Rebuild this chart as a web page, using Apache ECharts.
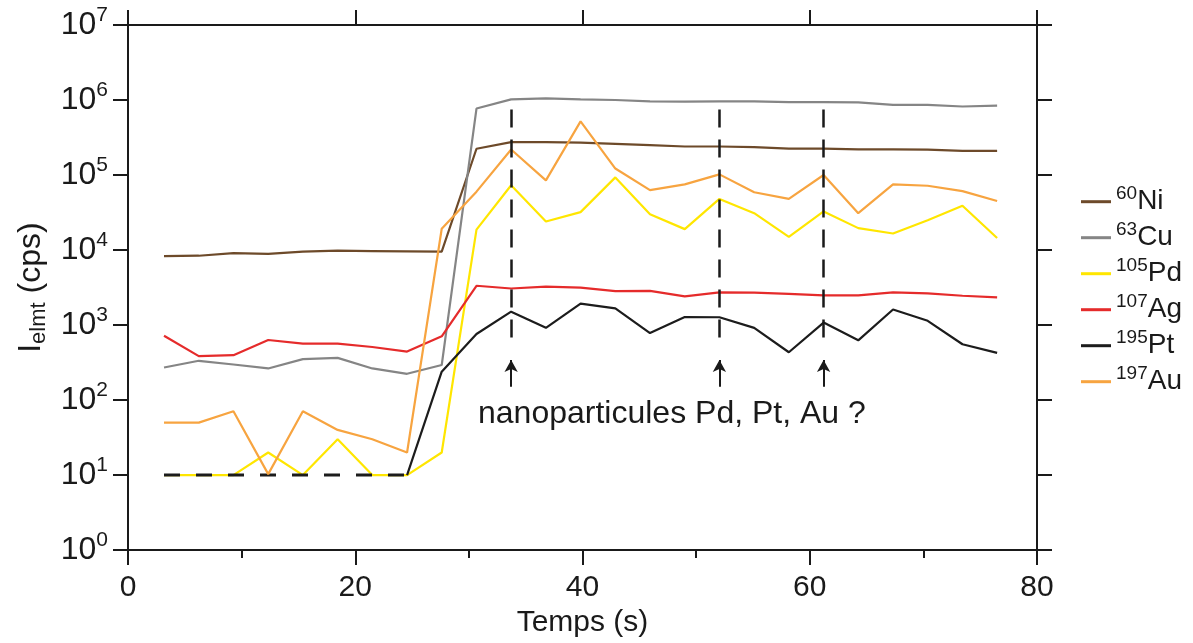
<!DOCTYPE html>
<html>
<head>
<meta charset="utf-8">
<script src="https://cdn.jsdelivr.net/npm/echarts@6/dist/echarts.min.js"></script>
<style>
html,body{margin:0;padding:0;background:#fff;}
#chart{width:1193px;height:643px;}
</style>
</head>
<body>
<div id="chart"></div>
<script>
// ---- data ----
var times = [3.17, 6.23, 9.28, 12.34, 15.39, 18.45, 21.50, 24.56, 27.61, 30.67, 33.72, 36.78, 39.83, 42.89, 45.94, 49.00, 52.05, 55.11, 58.16, 61.22, 64.27, 67.33, 70.38, 73.44, 76.49];
var ni60  = [8300, 8400, 9100, 8900, 9500, 9800, 9700, 9600, 9500, 224000, 275000, 275000, 270000, 260000, 250000, 240000, 240000, 235000, 225000, 225000, 220000, 220000, 218000, 210000, 210000];
var cu63  = [272, 334, 298, 264, 351, 365, 264, 224, 293, 770000, 1020000, 1050000, 1020000, 1000000, 960000, 950000, 960000, 960000, 940000, 940000, 930000, 860000, 860000, 820000, 840000];
var pd105 = [10, 10, 10, 20, 10, 30, 10, 10, 20, 18700, 73000, 24000, 32000, 93000, 30000, 19000, 48000, 31000, 15000, 32700, 19600, 16600, 25000, 39000, 14500];
var ag107 = [720, 385, 397, 632, 565, 565, 510, 443, 707, 3340, 3070, 3260, 3160, 2830, 2850, 2410, 2720, 2700, 2610, 2480, 2480, 2720, 2650, 2460, 2340];
var pt195 = [10, 10, 10, 10, 10, 10, 10, 10, 239, 760, 1510, 918, 1930, 1670, 782, 1280, 1270, 918, 434, 1080, 626, 1610, 1140, 555, 426];
var au197 = [50, 50, 71, 10.3, 71, 40, 30, 20, 19200, 60000, 219000, 85000, 520000, 122000, 63000, 75000, 102000, 59000, 48000, 100000, 31000, 75000, 72000, 61000, 45000];
var ptDetectionEnd = 7; // index where Pt leaves the detection limit (dashed part 0..7)

var masses   = ['60', '63', '105', '107', '195', '197'];
var elements = ['Ni', 'Cu', 'Pd', 'Ag', 'Pt', 'Au'];

var nanoTimes = [33.72, 52.05, 61.22];
var dashTop = 7.5e5, dashBottom = 508;
var arrowFrom = 151, arrowTo = 342;
var annotation = 'nanoparticules Pd, Pt, Au ?';
var xTicks = [0, 80, 20];
var yRange = [1, 1e7];

// ---- chart ----
var FONT = '"Liberation Sans", Arial, sans-serif';
var INK = '#1a1a1a';
var colors = {Ni:'#6d4a2a', Cu:'#858585', Pd:'#ffe600', Ag:'#e52b2b', Pt:'#1c1c1c', Au:'#f7a440'};

function zip(xs, ys){ return xs.map(function(x,i){ return [x, ys[i]]; }); }
function names(i){ return masses[i] + elements[i]; }

function lineSeries(i, data, extraStyle){
  var c = colors[elements[i]];
  var ls = {color:c, width:2.2};
  if (extraStyle) for (var k in extraStyle) ls[k] = extraStyle[k];
  return {name: names(i), type:'line', data: data, symbol:'none', showSymbol:false,
          lineStyle: ls, itemStyle:{color:c}, silent:true, z: 2};
}

var series = [
  lineSeries(0, zip(times, ni60)),
  lineSeries(1, zip(times, cu63)),
  lineSeries(2, zip(times, pd105)),
  lineSeries(3, zip(times, ag107)),
  (function(){ var s = lineSeries(4, zip(times.slice(0, ptDetectionEnd+1), pt195.slice(0, ptDetectionEnd+1)), {type:[16,16], width:3});
     s.name = 'Pt detection limit'; return s; })(),
  lineSeries(4, zip(times.slice(ptDetectionEnd), pt195.slice(ptDetectionEnd))),
  lineSeries(5, zip(times, au197))
];

var markData = [];
nanoTimes.forEach(function(t){
  markData.push([{coord:[t, dashTop], symbol:'none', lineStyle:{type:[18,12], width:2.5, color:INK}},
                 {coord:[t, dashBottom], symbol:'none'}]);
  markData.push([{coord:[t, arrowFrom], symbol:'none', lineStyle:{type:'solid', width:2, color:INK}},
                 {coord:[t, arrowTo], symbol:'arrow', symbolSize:[10, 12]}]);
});
series.push({name:'markers', type:'line', data:[], silent:true, z:5,
  markLine:{silent:true, animation:false, symbol:['none','none'], label:{show:false},
    emphasis:{disabled:true}, data: markData}});

var axisCommon = {
  axisLine:{show:true, onZero:false, lineStyle:{color:INK, width:2}},
  axisTick:{show:true, inside:false, length:15, lineStyle:{color:INK, width:2}},
  splitLine:{show:false}
};
function merge(a, b){ var o = {}; for (var k in a) o[k]=a[k]; for (var k2 in b) o[k2]=b[k2]; return o; }

var legendNames = masses.map(function(m,i){ return names(i); });

var option = {
  animation:false,
  backgroundColor:'#ffffff',
  textStyle:{fontFamily:FONT, color:INK},
  grid:{left:128, right:156, top:25, bottom:88},
  xAxis:[
    merge(axisCommon, {type:'value', min:xTicks[0], max:xTicks[1], interval:xTicks[2], position:'bottom',
      minorTick:{show:true, splitNumber:2, length:8, lineStyle:{color:INK, width:2}},
      axisLabel:{fontSize:30, color:INK, margin:23, fontFamily:FONT},
      name:'Temps (s)', nameLocation:'middle', nameGap:49,
      nameTextStyle:{fontSize:30, color:INK, fontFamily:FONT}}),
    merge(axisCommon, {type:'value', min:xTicks[0], max:xTicks[1], interval:xTicks[2], position:'top',
      axisLabel:{show:false}})
  ],
  yAxis:[
    merge(axisCommon, {type:'log', logBase:10, min:yRange[0], max:yRange[1], position:'left', splitNumber:7,
      axisLabel:{margin:20, formatter:function(v){ return '{b|10}{s|' + Math.round(Math.log10(v)) + '}'; },
        rich:{b:{fontSize:32, lineHeight:40, color:INK, fontFamily:FONT},
              s:{fontSize:21, lineHeight:22, verticalAlign:'top', color:INK, fontFamily:FONT}}},
      name:'{a|I}{sub|elmt}{a| (cps)}', nameLocation:'middle', nameGap:76,
      nameTextStyle:{rich:{a:{fontSize:32, lineHeight:38, color:INK, fontFamily:FONT},
                           sub:{fontSize:22, lineHeight:22, verticalAlign:'bottom', color:INK, fontFamily:FONT}}}}),
    merge(axisCommon, {type:'log', logBase:10, min:yRange[0], max:yRange[1], position:'right', splitNumber:7,
      axisLabel:{show:false}})
  ],
  legend:{
    orient:'vertical', left:1076, top:179.7, itemWidth:30, itemHeight:3, itemGap:5.0, icon:'rect',
    selectedMode:false,
    data: legendNames,
    formatter:function(n){ var i = legendNames.indexOf(n);
      return '{s|' + masses[i] + '}{b|' + elements[i] + '}'; },
    textStyle:{rich:{b:{fontSize:28, lineHeight:34, color:INK, fontFamily:FONT},
                     s:{fontSize:19, lineHeight:18, verticalAlign:'top', color:INK, fontFamily:FONT}}}
  },
  graphic:[{type:'text', left:478, top:398, silent:true,
    style:{text:annotation, font:'32px ' + FONT, fill:INK}}],
  series: series
};

var chart = echarts.init(document.getElementById('chart'), null, {renderer:'canvas'});
chart.setOption(option);
</script>
</body>
</html>
